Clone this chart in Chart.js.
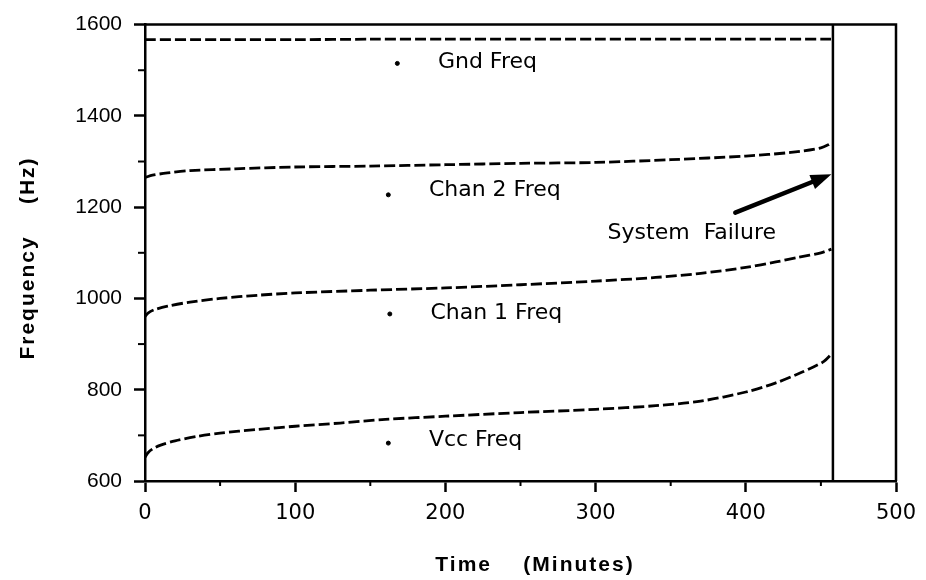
<!DOCTYPE html>
<html><head><meta charset="utf-8">
<script src="https://cdn.jsdelivr.net/npm/chart.js@4"></script>
<style>html,body{margin:0;padding:0;background:#fff}#wrap{width:926px;height:580px}</style>
</head><body><div id="wrap"><canvas id="c" width="926" height="580"></canvas></div>
<script>
// ---- data (time in minutes, frequency in Hz) ----
const gndT  = [0, 50, 100, 150, 200, 250, 300, 350, 400, 457];
const gndF  = [1567, 1567, 1567, 1568, 1568, 1568, 1568, 1568, 1568, 1568];
const chan2T = [0, 5, 15, 30, 60, 100, 150, 200, 250, 300, 350, 400, 430, 450, 457];
const chan2F = [1265, 1270, 1275, 1280, 1284, 1288, 1290, 1293, 1296, 1298, 1304, 1312, 1320, 1330, 1340];
const chan1T = [0, 2, 6, 15, 30, 50, 75, 100, 150, 200, 250, 300, 340, 370, 400, 420, 435, 450, 457];
const chan1F = [960, 968, 975, 983, 992, 1000, 1007, 1012, 1018, 1023, 1030, 1038, 1046, 1055, 1068, 1080, 1090, 1100, 1108];
const vccT  = [0, 2, 5, 10, 20, 35, 50, 75, 100, 130, 160, 200, 250, 300, 340, 370, 400, 420, 435, 445, 452, 457];
const vccF  = [652, 662, 670, 678, 688, 698, 705, 713, 720, 727, 735, 742, 750, 757, 765, 775, 795, 815, 835, 850, 862, 878];
const failureTime = 458;
const markerT = [168, 162, 163, 162];
const markerF = [1515, 1227, 966, 683];
const labelNames = ["Gnd Freq", "Chan 2 Freq", "Chan 1 Freq", "Vcc Freq"];
const labelT = [195, 189, 190, 189];
const labelF = [1517, 1238, 968, 689];
const xTicks = [0, 100, 200, 300, 400, 500];
const yTicks = [600, 800, 1000, 1200, 1400, 1600];
const xMinor = [50, 150, 250, 350, 450];
const yMinor = [700, 900, 1100, 1300, 1500];
const failText = "System  Failure";
const failTextT = 308, failTextF = 1142;
const arrowFrom = [393, 1188], arrowTo = [457, 1272];
const xTitle = "Time    (Minutes)";
const yTitle = "Frequency    (Hz)";

const pts = (t, f) => t.map((v, i) => ({x: v, y: f[i]}));
const lineDs = (t, f) => ({data: pts(t, f), showLine: true, borderColor: '#000', borderWidth: 2.8,
  borderDash: [11, 4], pointRadius: 0, tension: 0.3, fill: false});

const extras = {
  id: 'extras',
  afterDraw(chart) {
    const ctx = chart.ctx, xs = chart.scales.x, ys = chart.scales.y, a = chart.chartArea;
    ctx.save();
    ctx.strokeStyle = '#000'; ctx.lineWidth = 2.5;
    // frame
    ctx.beginPath();
    ctx.moveTo(a.left, a.top); ctx.lineTo(a.right, a.top); ctx.lineTo(a.right, a.bottom);
    ctx.stroke();
    // minor ticks
    ctx.lineWidth = 2;
    xMinor.forEach(v => { const p = xs.getPixelForValue(v); ctx.beginPath(); ctx.moveTo(p, a.bottom); ctx.lineTo(p, a.bottom + 5); ctx.stroke(); });
    yMinor.forEach(v => { const p = ys.getPixelForValue(v); ctx.beginPath(); ctx.moveTo(a.left, p); ctx.lineTo(a.left - 7, p); ctx.stroke(); });
    // labels
    ctx.fillStyle = '#000';
    ctx.font = '22px "DejaVu Sans"';
    ctx.textBaseline = 'middle'; ctx.textAlign = 'left';
    labelNames.forEach((s, i) => ctx.fillText(s, xs.getPixelForValue(labelT[i]), ys.getPixelForValue(labelF[i])));
    ctx.fillText(failText, xs.getPixelForValue(failTextT), ys.getPixelForValue(failTextF));
    // arrow
    const x1 = xs.getPixelForValue(arrowFrom[0]), y1 = ys.getPixelForValue(arrowFrom[1]);
    const x2 = xs.getPixelForValue(arrowTo[0]), y2 = ys.getPixelForValue(arrowTo[1]);
    const ang = Math.atan2(y2 - y1, x2 - x1);
    ctx.lineWidth = 4.5; ctx.lineCap = 'round';
    ctx.beginPath(); ctx.moveTo(x1, y1); ctx.lineTo(x2 - 12 * Math.cos(ang), y2 - 12 * Math.sin(ang)); ctx.stroke();
    ctx.beginPath();
    ctx.moveTo(x2, y2);
    ctx.lineTo(x2 - 22 * Math.cos(ang - 0.35), y2 - 22 * Math.sin(ang - 0.35));
    ctx.lineTo(x2 - 22 * Math.cos(ang + 0.35), y2 - 22 * Math.sin(ang + 0.35));
    ctx.closePath(); ctx.fill();
    // axis titles
    ctx.font = 'bold 21px "Liberation Sans"';
    ctx.letterSpacing = '2px';
    ctx.textAlign = 'center'; ctx.textBaseline = 'middle';
    ctx.fillText(xTitle, 535, 565);
    ctx.translate(28, 258); ctx.rotate(-Math.PI / 2);
    ctx.fillText(yTitle, 0, 0);
    ctx.restore();
  }
};

new Chart(document.getElementById('c'), {
  type: 'scatter',
  data: {datasets: [
    lineDs(gndT, gndF), lineDs(chan2T, chan2F), lineDs(chan1T, chan1F), lineDs(vccT, vccF),
    {data: [{x: failureTime, y: 600}, {x: failureTime, y: 1600}], showLine: true, borderColor: '#000', borderWidth: 2.5, pointRadius: 0},
    {data: pts(markerT, markerF), showLine: false, pointRadius: 2, backgroundColor: '#000', borderColor: '#000'}
  ]},
  options: {
    responsive: false, animation: false,
    layout: {padding: {top: 22, right: 30, left: 0, bottom: 0}},
    plugins: {legend: {display: false}, tooltip: {enabled: false}},
    scales: {
      x: {type: 'linear', min: 0, max: 500,
        afterBuildTicks: s => { s.ticks = xTicks.map(v => ({value: v})); },
        afterFit: s => { s.height = 99; },
        ticks: {color: '#000', font: {family: 'DejaVu Sans', size: 21}, padding: 9, maxRotation: 0,
          callback: v => String(v)},
        grid: {drawOnChartArea: false, drawTicks: true, tickLength: 11, tickColor: '#000', tickWidth: 2.5},
        border: {display: true, color: '#000', width: 2.5}},
      y: {type: 'linear', min: 600, max: 1600,
        afterBuildTicks: s => { s.ticks = yTicks.map(v => ({value: v})); },
        afterFit: s => { s.width = 145; },
        ticks: {color: '#000', font: {family: 'Liberation Sans', size: 21}, padding: 12,
          callback: v => String(v)},
        grid: {drawOnChartArea: false, drawTicks: true, tickLength: 11, tickColor: '#000', tickWidth: 2.5},
        border: {display: true, color: '#000', width: 2.5}}
    }
  },
  plugins: [extras]
});
</script></body></html>
